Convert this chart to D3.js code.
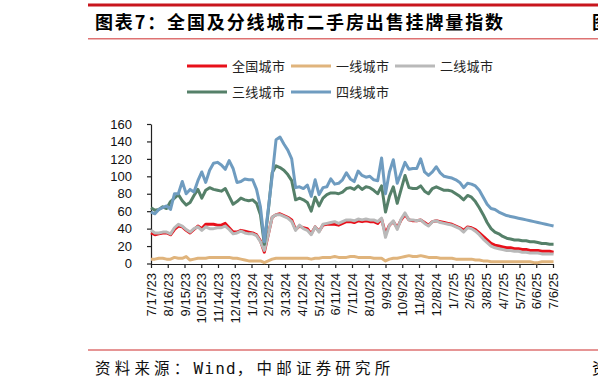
<!DOCTYPE html>
<html>
<head>
<meta charset="utf-8">
<script src="https://cdn.jsdelivr.net/npm/d3@7/dist/d3.min.js"></script>
<style>
  body { margin: 0; background: #fff; }
  svg { display: block; }
</style>
</head>
<body>
<div id="chart"></div>
<script>
// x axis tick labels (every 30 days, as in the source)
var tickLabels = ["7/17/23","8/16/23","9/15/23","10/15/23","11/14/23","12/14/23","1/13/24",
  "2/12/24","3/13/24","4/12/24","5/12/24","6/11/24","7/11/24","8/10/24","9/9/24","10/9/24",
  "11/8/24","12/8/24","1/7/25","2/6/25","3/8/25","4/7/25","5/7/25","6/6/25","7/6/25"];
var firstWeek = "7/17/23";
var yTicks = [0, 20, 40, 60, 80, 100, 120, 140, 160];

// weekly index values
var national = [35,33,34,35,35,33,39,43,42,38,35,39,43,40,45,45,45,44,44,46,41,36,36,38,37,36,
  35,33,26,13,33,53,56,57,55,53,50,39,43,41,40,34,42,37,44,45,45,45,44,46,48,48,47,
  49,48,49,48,48,46,51,34,44,48,41,50,56,50,49,49,50,47,44,48,49,48,47,46,45,43,41,
  38,42,41,39,35,31,27,23,21,20,19,18,18,17,17,16,16,15,15,15,14,14,14,13];
var tier1 = [5,5,6,6,5,5,7,6,6,8,4,5,6,6,6,7,7,7,7,7,7,6,6,5,4,3,
  3,3,3,1,3,5,6,6,6,6,6,6,6,6,6,5,6,6,7,7,7,8,7,7,7,8,8,
  7,7,7,7,6,6,6,3,5,6,6,7,8,9,8,8,9,8,7,7,7,6,6,6,6,5,5,
  5,5,5,4,4,3,3,2,2,2,2,2,2,2,2,2,2,2,1,1,2,2,2,2];
var tier2 = [38,35,35,36,36,34,41,45,43,39,36,40,42,38,42,40,40,41,41,43,39,34,35,37,35,34,
  34,32,25,15,33,53,56,56,54,52,48,38,44,40,38,33,42,36,45,46,47,48,46,48,50,50,49,
  51,50,51,50,50,48,52,30,44,49,39,51,58,50,50,49,50,46,43,48,49,47,46,45,44,42,40,
  36,41,40,37,33,28,24,20,18,17,16,15,15,14,14,13,13,12,12,12,11,11,11,11];
var tier3 = [64,61,62,65,63,71,75,79,72,67,70,78,85,75,84,87,85,84,83,86,77,68,71,75,73,72,
  73,69,56,22,60,104,112,110,107,102,95,73,75,73,70,60,76,66,75,79,81,81,80,82,86,87,85,
  89,85,88,87,84,80,89,59,77,88,69,85,101,87,86,86,89,83,80,86,88,86,84,84,83,80,77,
  73,78,76,71,64,56,47,40,36,34,31,29,28,27,27,26,26,25,25,24,23,23,22,22];
var tier4 = [59,57,62,64,66,62,80,80,94,80,85,82,95,105,93,107,115,116,113,108,118,109,93,94,97,96,
  96,85,65,25,62,100,142,145,137,130,120,87,88,86,90,77,96,79,87,88,97,91,92,96,104,97,94,
  106,101,99,100,96,95,121,80,105,119,92,104,116,108,109,109,120,105,101,105,111,104,100,99,98,96,93,
  87,92,91,89,84,76,68,63,62,59,57,55,54,53,52,51,50,49,48,47,46,45,44,43];

var seriesNames = ["全国城市", "一线城市", "二线城市", "三线城市", "四线城市"];
var seriesColors = ["#E8101A", "#E0B47C", "#B9B9B9", "#558069", "#6F9CC0"];

var width = 598,
    height = 387;

var svg = d3.select("#chart").append("svg")
      .attr("width", width)
      .attr("height", height);

var parse = d3.timeParse("%m/%d/%y");
var start = parse(firstWeek);
var dates = national.map(function(d, i) { return d3.timeDay.offset(start, 7 * i); });

var x = d3.scaleTime()
    .domain([parse(tickLabels[0]), parse(tickLabels[tickLabels.length - 1])])
    .range([151, 553]);
var y = d3.scaleLinear().domain([0, 160]).range([263.5, 124]);

// header / footer rules
svg.append("line").attr("x1", 88).attr("x2", width).attr("y1", 5).attr("y2", 5)
  .attr("stroke", "#C8161D").attr("stroke-width", 3);
svg.append("line").attr("x1", 88).attr("x2", width).attr("y1", 38.8).attr("y2", 38.8)
  .attr("stroke", "#DE7272").attr("stroke-width", 1.6);
svg.append("line").attr("x1", 88).attr("x2", width).attr("y1", 350).attr("y2", 350)
  .attr("stroke", "#DE7272").attr("stroke-width", 1.6);

svg.append("text")
    .attr("x", 95).attr("y", 29)
    .attr("textLength", 408).attr("lengthAdjust", "spacing")
    .style("font-family", "'Noto Sans CJK SC', sans-serif")
    .style("font-weight", "bold").style("font-size", "18px")
    .text("图表7：全国及分线城市二手房出售挂牌量指数");
// start of the neighbouring column's title, cut by the page edge as in the source
svg.append("text")
    .attr("x", 592).attr("y", 29)
    .style("font-family", "'Noto Sans CJK SC', sans-serif")
    .style("font-weight", "bold").style("font-size", "18px")
    .text("图");

var source = svg.append("text")
    .attr("x", 95).attr("y", 374)
    .style("font-family", "'Noto Sans CJK SC', sans-serif")
    .style("font-size", "15.5px")
    .style("fill", "#111");
source.append("tspan").style("letter-spacing", "4.2px").text("资料来源：");
source.append("tspan")
    .style("font-family", "'DejaVu Sans Mono', 'Liberation Mono', monospace")
    .style("font-size", "16px")
    .style("letter-spacing", "1.2px")
    .text("Wind");
source.append("tspan").style("letter-spacing", "4.2px").text("，中邮证券研究所");
svg.append("text")
    .attr("x", 592).attr("y", 374)
    .style("font-family", "'Noto Sans CJK SC', sans-serif")
    .style("font-size", "15.5px")
    .text("资");

// legend
var legendPos = [[187, 66], [291, 66], [395, 66], [187, 92], [291, 92]];
var legend = svg.append("g").selectAll("g")
    .data(seriesNames)
  .enter().append("g")
    .attr("transform", function(d, i) { return "translate(" + legendPos[i][0] + "," + legendPos[i][1] + ")"; });
legend.append("line")
    .attr("x1", 0).attr("x2", 40)
    .attr("stroke", function(d, i) { return seriesColors[i]; })
    .attr("stroke-width", 3);
legend.append("text")
    .attr("x", 45).attr("dy", "0.36em")
    .style("font-family", "'Noto Sans CJK SC', sans-serif")
    .style("font-size", "13px")
    .style("letter-spacing", "0.3px")
    .style("fill", "#222")
    .text(function(d) { return d; });

// axes
var yAxis = svg.append("g")
    .attr("transform", "translate(151,0)")
    .call(d3.axisLeft(y).tickValues(yTicks).tickSize(4).tickSizeOuter(0).tickPadding(15));
var xAxis = svg.append("g")
    .attr("transform", "translate(0,264)")
    .call(d3.axisBottom(x)
      .tickValues(tickLabels.map(parse))
      .tickFormat(function(d, i) { return tickLabels[i]; })
      .tickSize(4).tickSizeOuter(0));

[yAxis, xAxis].forEach(function(a) {
  a.selectAll("path, line").attr("stroke", "#222").attr("stroke-width", 1.2);
  a.selectAll("text")
    .style("font-family", "'Liberation Sans', Arial, sans-serif")
    .style("font-size", "13px")
    .style("fill", "#111");
});
xAxis.selectAll("text")
    .attr("transform", "rotate(-90)")
    .attr("x", -9).attr("y", 0)
    .attr("dy", "0.35em")
    .style("text-anchor", "end");

// series lines, drawn in legend order so grey sits over red
var line = d3.line()
    .x(function(d, i) { return x(dates[i]); })
    .y(function(d) { return y(d); });

var allSeries = [national, tier1, tier2, tier3, tier4];
svg.append("g").selectAll("path")
    .data(allSeries)
  .enter().append("path")
    .attr("d", line)
    .attr("fill", "none")
    .attr("stroke", function(d, i) { return seriesColors[i]; })
    .attr("stroke-width", 3)
    .attr("stroke-linejoin", "round");
</script>
</body>
</html>
